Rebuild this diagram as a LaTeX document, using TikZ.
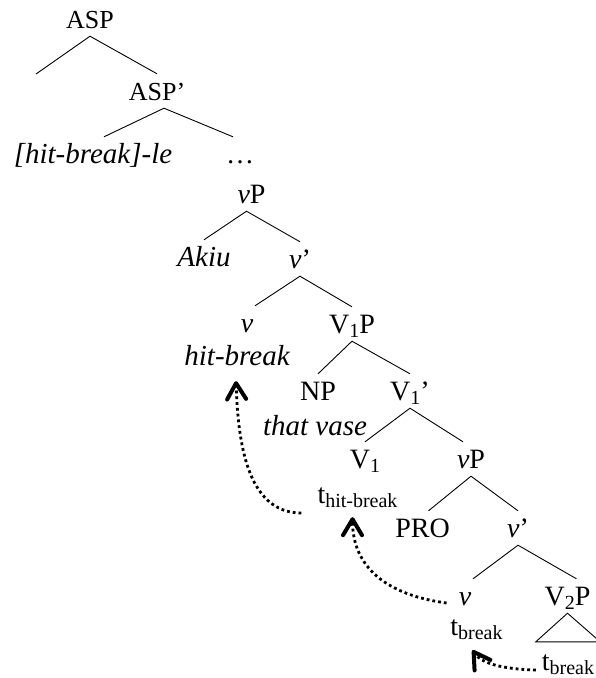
\documentclass[tikz,border=0pt]{standalone}
\usepackage{fontspec}
\setmainfont{Liberation Serif}
\usetikzlibrary{arrows.meta}
\newcommand{\lowsub}[1]{\raisebox{-4pt}{\fontsize{20}{22}\selectfont #1}}

\begin{document}
\begin{tikzpicture}[x=1pt, y=1pt,
        every node/.style={font=\fontsize{28}{30}\selectfont, anchor=base, text height=19pt, text depth=1pt, inner ysep=7pt, inner xsep=2pt},
        head/.style={font=\fontsize{26}{30}\selectfont},
        word/.style={font=\fontsize{29}{30}\selectfont\itshape},
        branch/.style={line width=0.9pt},
        move/.style={line width=2.8pt, dash pattern=on 2.8pt off 3pt,
          -{Straight Barb[length=16pt, width=19pt, line width=4pt, round]}}]
        \useasboundingbox (0,0) rectangle (596,-678);
        \node[head] (asp) at (90,-28) {ASP};
        \coordinate (nul) at (36,-74);
        \node[head] (aspbar) at (157,-100) {ASP'};
        \node[word] (hble) at (93,-163) {[hit-break]-le};
        \node (ell) at (240,-163) {\dots};
        \node (vpa) at (251.5,-203) {\textit{v}P};
        \node[word] (akiu) at (204,-266) {Akiu};
        \node (vbara) at (300,-268) {\textit{v}'};
        \node (va) at (247,-332) {\textit{v}};
        \node[word] (hb) at (237,-365) {hit-break};
        \node (vap) at (352,-333) {V\lowsub{1}P};
        \node (np) at (318,-400) {NP};
        \node[word] (vase) at (315,-435) {that vase};
        \node (vabar) at (410,-400) {V\lowsub{1}'};
        \node (vone) at (365,-468) {V\lowsub{1}};
        \node (thb) at (357.5,-503) {t\lowsub{hit-break}};
        \node (vpb) at (471,-468) {\textit{v}P};
        \node (pro) at (422.5,-537) {PRO};
        \node (vbarb) at (518,-537) {\textit{v}'};
        \node (vb) at (465,-605) {\textit{v}};
        \node (tba) at (476.5,-635) {t\lowsub{break}};
        \node (vtwop) at (567.5,-605) {V\lowsub{2}P};
        \node[minimum width=64pt, text height=21pt] (tbb) at (568,-670) {t\lowsub{break}};
        \draw[branch] (nul) -- (asp.south) -- (aspbar.north)
          ([xshift=11pt]hble.north) -- ([xshift=7pt]aspbar.south) -- ([xshift=-7pt]ell.north)
          (akiu.north) -- ([xshift=-5pt]vpa.south) -- (vbara.north)
          ([xshift=8pt]va.north) -- (vbara.south) -- (vap.north)
          (np.north) -- (vap.south) -- (vabar.north)
          (vone.north) -- (vabar.south) -- ([xshift=-8pt]vpb.north)
          ([xshift=6pt]pro.north) -- (vpb.south) -- (vbarb.north)
          ([xshift=8pt]vb.north) -- (vbarb.south) -- ([xshift=9pt]vtwop.north)
          (vtwop.south) -- (tbb.north west) -- (tbb.north east) -- cycle;
        \draw[move] ([shift={(-14pt,-10pt)}]thb.base west) .. controls +(-55pt,0pt) and +(2pt,-59pt) .. ([shift={(-1pt,-8pt)}]hb.south);
        \draw[move] ([shift={(-10pt,2pt)}]vb.base west) .. controls +(-60pt,8pt) and +(0pt,-50pt) .. ([shift={(-5pt,-6pt)}]thb.south);
        \draw[move] (tbb.base west) .. controls +(-37pt,1pt) and +(8pt,-12pt) .. ([shift={(-4pt,-7pt)}]tba.south);
\end{tikzpicture}
\end{document}
